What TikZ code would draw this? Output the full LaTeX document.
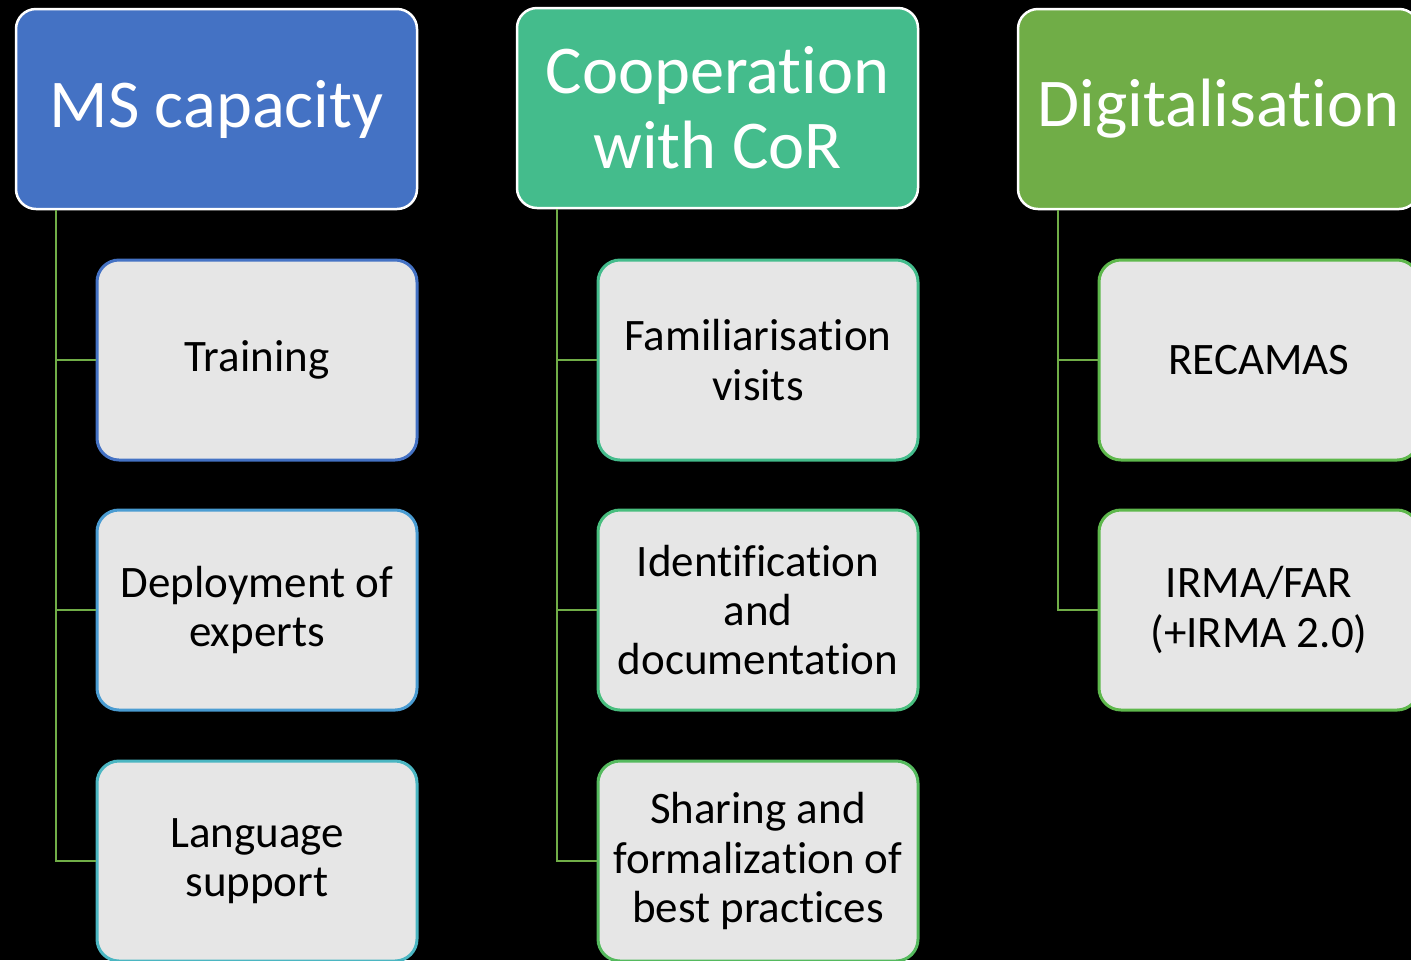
\documentclass[tikz,border=0pt]{standalone}
\usepackage{fontspec}
\setmainfont{Carlito}[Ligatures=NoCommon]
\usetikzlibrary{calc}
\definecolor{hblue}{HTML}{4472C4}
\definecolor{hteal}{HTML}{44BC8C}
\definecolor{hgreen}{HTML}{70AD47}
\definecolor{bA}{HTML}{4472C4}
\definecolor{bB}{HTML}{4A9CD2}
\definecolor{bC}{HTML}{4BB6C2}
\definecolor{bD}{HTML}{44BC8C}
\definecolor{bE}{HTML}{48BE7E}
\definecolor{bF}{HTML}{55BA5E}
\definecolor{bG}{HTML}{5EB84C}
\definecolor{boxfill}{HTML}{E6E6E6}
\definecolor{conncol}{HTML}{70AD47}
\tikzset{
  header/.style={draw=white, line width=1.25pt, rounded corners=10pt,
    minimum width=200.5pt, minimum height=100pt, text=white, align=center,
    font=\fontsize{34.2}{37.4}\selectfont, inner sep=0pt},
  child/.style={draw=#1, fill=boxfill, line width=1.5pt, rounded corners=11pt,
    minimum width=160pt, minimum height=100pt, text=black, align=center,
    font=\fontsize{22.5}{24.7}\selectfont, inner sep=0pt},
  conn/.style={draw=conncol, line width=1pt}
}
\begin{document}
\begin{tikzpicture}[x=0.5pt,y=-0.5pt]
\fill[black] (0,0) rectangle (1411,960);
\useasboundingbox (0,0) rectangle (1411,960);
\clip (0,0) rectangle (1411,960);
% headers
\node[header, fill=hblue] (ms) at (216.5,109) {MS capacity};
\node[header, fill=hteal] (coop) at (717.5,108) {Cooperation\\with CoR};
\node[header, fill=hgreen] (dig) at (1218.5,109) {Digitalisation};
% column 1
\node[child=bA] (train) at (257,360) {Training};
\node[child=bB] (deploy) at (257,610) {Deployment of\\experts};
\node[child=bC] (lang) at (257,861) {Language\\support};
% column 2
\node[child=bD] (fam) at (758,360) {Familiarisation\\visits};
\node[child=bE] (ident) at (758,610) {Identification\\and\\documentation};
\node[child=bF] (share) at (758,861) {Sharing and\\formalization of\\best practices};
% column 3
\node[child=bG] (rec) at (1259,360) {RECAMAS};
\node[child=bG] (irma) at (1259,610) {IRMA/FAR\\(+IRMA 2.0)};
% connectors
\coordinate (c1) at ([xshift=20.5pt]ms.south west);
\coordinate (c2) at ([xshift=20.5pt]coop.south west);
\coordinate (c3) at ([xshift=20.5pt]dig.south west);
\draw[conn] (c1) |- (lang.west);
\draw[conn] (c1) |- (train.west);
\draw[conn] (c1) |- (deploy.west);
\draw[conn] (c2) |- (share.west);
\draw[conn] (c2) |- (fam.west);
\draw[conn] (c2) |- (ident.west);
\draw[conn] (c3) |- (irma.west);
\draw[conn] (c3) |- (rec.west);
\end{tikzpicture}
\end{document}
